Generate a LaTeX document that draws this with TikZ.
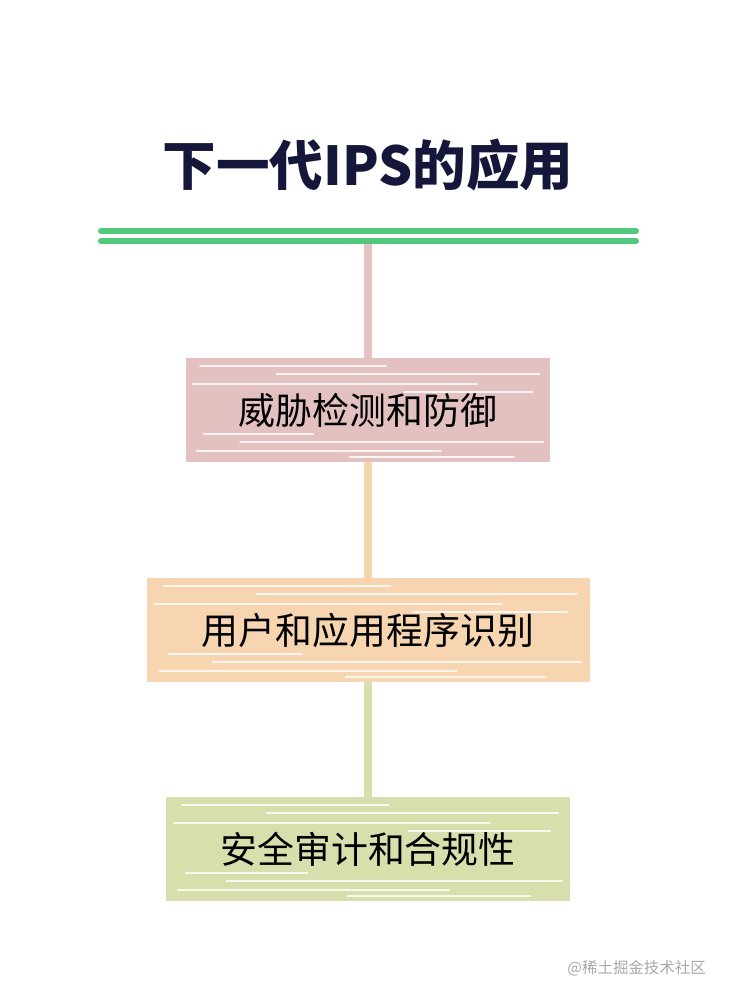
\documentclass[tikz,border=0pt]{standalone}
\usepackage{fontspec}
\usepackage{tikz}
\usetikzlibrary{calc}
\newfontfamily\cjk{Noto Sans CJK SC}
\definecolor{titleblue}{HTML}{14173A}
\definecolor{barGreen}{HTML}{52C87C}
\definecolor{boxPink}{HTML}{E3C1C0}
\definecolor{boxOrange}{HTML}{F6D5B0}
\definecolor{boxGreen}{HTML}{D9DFAC}
\definecolor{markGray}{HTML}{A8A8A8}

\begin{document}
\begin{tikzpicture}[x=0.02cm,y=-0.02cm,line cap=round]
            \tikzstyle{box}=[rectangle,minimum width=364*0.02cm,minimum height=104*0.02cm,inner sep=0pt,font=\cjk\fontsize{21}{24}\selectfont,text=black]
            \tikzstyle{link}=[line width=4pt,line cap=butt]
            \tikzstyle{streak}=[white,line width=1.4pt,opacity=0.8]
            \useasboundingbox (0,0) rectangle (736,1000);

                    \node[font=\cjk\bfseries\fontsize{30.5}{34}\selectfont,text=titleblue] (title) at (368,165){下一代IPS的应用};
                    \draw[barGreen,line width=3.4pt] (101,231) -- (636,231);
                    \draw[barGreen,line width=3.4pt] (101,241) -- (636,241);
                    \coordinate (top) at (368,244);

                    \node[box,fill=boxPink] (B-1) at (368,410){威胁检测和防御};
                    \node[box,fill=boxOrange,minimum width=443*0.02cm] (B-2) at (368,630){用户和应用程序识别};
                    \node[box,fill=boxGreen,minimum width=404*0.02cm] (B-3) at (368,849){安全审计和合规性};

                \foreach \from/\to/\col in {top/B-1/boxPink, B-1/B-2/boxOrange, B-2/B-3/boxGreen}
                    \draw[link,\col] (\from) -- (\to);

                \foreach \b in {1,2,3}
                    \foreach \dy/\s/\e in {-44/0.04/0.55, -36/0.25/0.97, -26/0.02/0.8, -18/0.6/0.95, 24/0.05/0.35, 32/0.15/0.98, 41/0.03/0.7, 47/0.45/0.9}
                        \draw[streak] ($(B-\b.west)!\s!(B-\b.east)+(0,\dy)$) -- ($(B-\b.west)!\e!(B-\b.east)+(0,\dy)$);

                    \node[font=\cjk\fontsize{8.8}{10}\selectfont,text=markGray,anchor=east] (mark) at (712,968){@稀土掘金技术社区};
        \end{tikzpicture}
\end{document}
